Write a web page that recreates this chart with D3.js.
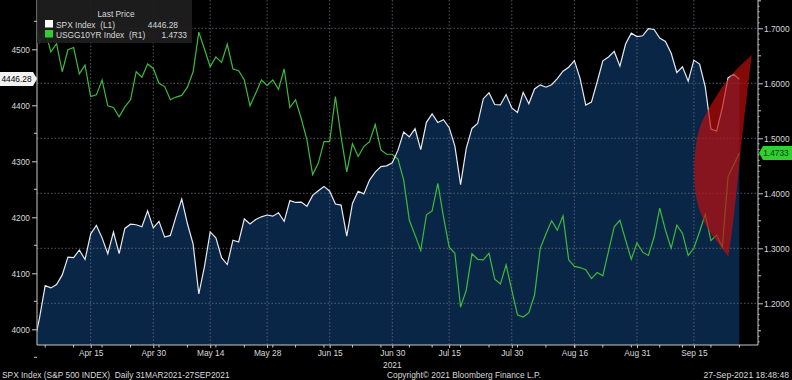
<!DOCTYPE html>
<html><head><meta charset="utf-8">
<script src="https://cdn.jsdelivr.net/npm/d3@7"></script>
<style>
html,body{margin:0;padding:0;background:#000;}
svg{display:block;font-family:"Liberation Sans",Arial,sans-serif;}
text{white-space:pre;}
</style></head><body>
<script>
const dates = ["2021-03-31","2021-04-01","2021-04-05","2021-04-06","2021-04-07","2021-04-08","2021-04-09","2021-04-12","2021-04-13","2021-04-14","2021-04-15","2021-04-16","2021-04-19","2021-04-20","2021-04-21","2021-04-22","2021-04-23","2021-04-26","2021-04-27","2021-04-28","2021-04-29","2021-04-30","2021-05-03","2021-05-04","2021-05-05","2021-05-06","2021-05-07","2021-05-10","2021-05-11","2021-05-12","2021-05-13","2021-05-14","2021-05-17","2021-05-18","2021-05-19","2021-05-20","2021-05-21","2021-05-24","2021-05-25","2021-05-26","2021-05-27","2021-05-28","2021-06-01","2021-06-02","2021-06-03","2021-06-04","2021-06-07","2021-06-08","2021-06-09","2021-06-10","2021-06-11","2021-06-14","2021-06-15","2021-06-16","2021-06-17","2021-06-18","2021-06-21","2021-06-22","2021-06-23","2021-06-24","2021-06-25","2021-06-28","2021-06-29","2021-06-30","2021-07-01","2021-07-02","2021-07-06","2021-07-07","2021-07-08","2021-07-09","2021-07-12","2021-07-13","2021-07-14","2021-07-15","2021-07-16","2021-07-19","2021-07-20","2021-07-21","2021-07-22","2021-07-23","2021-07-26","2021-07-27","2021-07-28","2021-07-29","2021-07-30","2021-08-02","2021-08-03","2021-08-04","2021-08-05","2021-08-06","2021-08-09","2021-08-10","2021-08-11","2021-08-12","2021-08-13","2021-08-16","2021-08-17","2021-08-18","2021-08-19","2021-08-20","2021-08-23","2021-08-24","2021-08-25","2021-08-26","2021-08-27","2021-08-30","2021-08-31","2021-09-01","2021-09-02","2021-09-03","2021-09-07","2021-09-08","2021-09-09","2021-09-10","2021-09-13","2021-09-14","2021-09-15","2021-09-16","2021-09-17","2021-09-20","2021-09-21","2021-09-22","2021-09-23","2021-09-24","2021-09-27"];

const spx = [3972.89,4019.87,4077.91,4073.94,4079.95,4097.17,4128.80,4127.99,4141.59,4124.66,4170.42,4185.47,4163.26,4134.94,4173.42,4134.98,4180.17,4187.62,4186.72,4183.18,4211.47,4181.17,4192.66,4164.66,4167.59,4201.62,4232.60,4188.43,4152.10,4063.04,4112.50,4173.85,4163.29,4127.83,4115.68,4159.12,4155.86,4197.05,4188.13,4195.99,4200.88,4204.11,4202.04,4208.12,4192.85,4229.89,4226.52,4227.26,4219.55,4239.18,4247.44,4255.15,4246.59,4223.70,4221.86,4166.45,4224.79,4246.44,4241.84,4266.49,4280.70,4290.61,4291.80,4297.50,4319.94,4352.34,4343.54,4358.13,4320.82,4369.55,4384.63,4369.21,4374.30,4360.03,4327.16,4258.49,4323.06,4358.69,4367.48,4411.79,4422.30,4401.46,4400.64,4419.15,4395.26,4387.16,4423.15,4402.66,4429.10,4436.52,4432.35,4436.75,4447.70,4460.83,4468.00,4479.71,4448.08,4400.27,4405.80,4441.67,4479.53,4486.23,4496.19,4470.00,4509.37,4528.79,4522.68,4524.09,4536.95,4535.43,4520.03,4514.07,4493.28,4458.58,4468.73,4443.05,4480.70,4473.75,4432.99,4357.73,4354.19,4395.64,4448.98,4455.48,4446.28];

const yld = [1.745,1.675,1.695,1.657,1.672,1.621,1.661,1.665,1.617,1.633,1.576,1.579,1.606,1.559,1.556,1.539,1.557,1.570,1.621,1.611,1.635,1.627,1.600,1.594,1.570,1.575,1.578,1.593,1.621,1.693,1.662,1.630,1.648,1.638,1.671,1.626,1.623,1.606,1.559,1.582,1.606,1.596,1.606,1.589,1.626,1.556,1.570,1.536,1.497,1.434,1.455,1.494,1.494,1.576,1.503,1.439,1.490,1.467,1.485,1.494,1.525,1.479,1.471,1.471,1.462,1.424,1.351,1.324,1.296,1.361,1.368,1.418,1.357,1.302,1.291,1.193,1.224,1.290,1.280,1.279,1.291,1.244,1.235,1.270,1.224,1.179,1.175,1.183,1.215,1.300,1.326,1.350,1.333,1.359,1.279,1.267,1.265,1.261,1.245,1.256,1.250,1.295,1.339,1.351,1.315,1.280,1.310,1.293,1.287,1.320,1.373,1.333,1.300,1.342,1.327,1.287,1.300,1.330,1.362,1.314,1.324,1.302,1.430,1.452,1.4733];

const xTickDates = ["2021-04-15","2021-04-30","2021-05-14","2021-05-28","2021-06-15","2021-06-30","2021-07-15","2021-07-30","2021-08-16","2021-08-31","2021-09-15"];
const xTickLabels = ["Apr 15","Apr 30","May 14","May 28","Jun 15","Jun 30","Jul 15","Jul 30","Aug 16","Aug 31","Sep 15"];
const leftTicks = [4000,4100,4200,4300,4400,4500];
const rightTicks = [1.2,1.3,1.4,1.5,1.6,1.7];
const lastSpx = "4446.28", lastYld = "1.4733";
// annotation (red highlight) edges as [trading-day index, SPX level]
const annoLeft = [[126.17,4489.8],[122.36,4451.1],[118.84,4397.5],[116.9,4355.9],[116.08,4290.4],[116.5,4230.9],[118.26,4183.2],[120.3,4153.6],[122.06,4129.6]];
const annoRight = [[122.06,4129.6],[122.65,4171.4],[123.53,4248.8],[124.41,4338.0],[125.29,4415.4],[126.17,4489.8]];

const W=792,H=380, L=37, R=758, T=0, B=345;
const FS = 9.5, SQ = 0.88;
const svg = d3.select("body").append("svg").attr("width",W).attr("height",H);
svg.append("rect").attr("width",W).attr("height",H).attr("fill","#000");

const x = d3.scaleLinear().domain([0,dates.length-1]).range([33.8,739.4]);
const yL = d3.scaleLinear().domain([4000,4500]).range([329.3,49.3]);
const yR = d3.scaleLinear().domain([1.2,1.7]).range([303.3,28.3]);

svg.append("clipPath").attr("id","clip").append("rect").attr("x",L).attr("y",T).attr("width",R-L).attr("height",B-T);
const plot = svg.append("g").attr("clip-path","url(#clip)");

plot.append("path").datum(spx)
  .attr("d", d3.area().x((d,i)=>x(i)).y0(B).y1(d=>yL(d)))
  .attr("fill","#0a2647");

const gridC = "#6a6f78";
plot.selectAll(".hg").data(rightTicks).join("line")
  .attr("x1",L).attr("x2",R).attr("y1",d=>yR(d)).attr("y2",d=>yR(d))
  .attr("stroke",gridC).attr("stroke-width",0.8).attr("stroke-dasharray","1.5,2");
plot.selectAll(".vg").data(xTickDates).join("line")
  .attr("x1",d=>x(dates.indexOf(d))).attr("x2",d=>x(dates.indexOf(d))).attr("y1",T).attr("y2",B)
  .attr("stroke",gridC).attr("stroke-width",0.8).attr("stroke-dasharray","1.5,2");

plot.append("path").datum(yld)
  .attr("d", d3.line().x((d,i)=>x(i)).y(d=>yR(d)))
  .attr("fill","none").attr("stroke","#3dbb3d").attr("stroke-width",1.2);
plot.append("path").datum(spx)
  .attr("d", d3.line().x((d,i)=>x(i)).y(d=>yL(d)))
  .attr("fill","none").attr("stroke","#e4ebf3").attr("stroke-width",1.2);

const annoLine = d3.line().x(d=>x(d[0])).y(d=>yL(d[1])).curve(d3.curveCatmullRom);
const p1 = annoLine(annoLeft), p2 = annoLine(annoRight).replace(/^M/,"L");
svg.append("path").attr("d", p1+p2+"Z").attr("fill","#c20e0e").attr("fill-opacity",0.68);

const axC = "#c8c8c8", txtC = "#d8d8d8";
svg.append("line").attr("x1",L).attr("x2",L).attr("y1",T).attr("y2",B).attr("stroke",axC);
svg.append("line").attr("x1",R).attr("x2",R).attr("y1",T).attr("y2",B).attr("stroke",axC);
svg.append("line").attr("x1",L).attr("x2",R).attr("y1",B).attr("y2",B).attr("stroke",axC);

const gl = svg.append("g").attr("transform",`translate(${L},0)`)
  .call(d3.axisLeft(yL).tickValues(leftTicks).tickFormat(d3.format("d")).tickSize(5).tickPadding(2));
const gr = svg.append("g").attr("transform",`translate(${R},0)`)
  .call(d3.axisRight(yR).tickValues(rightTicks).tickFormat(d3.format(".4f")).tickSize(5).tickPadding(1));
[gl,gr].forEach(g=>{
  g.select(".domain").remove();
  g.selectAll(".tick line").attr("stroke",axC);
  g.selectAll(".tick text").attr("fill",txtC).attr("font-size",FS).attr("font-family",null);
});
svg.selectAll(".ml").data(d3.range(3950,4600,50).filter(v=>v%100!==0)).join("line")
  .attr("x1",L-3).attr("x2",L).attr("y1",d=>yL(d)).attr("y2",d=>yL(d)).attr("stroke",axC);
svg.selectAll(".mr").data(d3.range(113,176,1).map(v=>v/100).filter(v=>Math.round(v*100)%10!==0)).join("line")
  .attr("x1",R).attr("x2",d=>R+(Math.round(d*100)%5===0?3:1.5)).attr("y1",d=>yR(d)).attr("y2",d=>yR(d)).attr("stroke",axC);

const gb = svg.append("g").attr("transform",`translate(0,${B})`)
  .call(d3.axisBottom(x).tickValues(xTickDates.map(d=>dates.indexOf(d))).tickFormat((d,i)=>xTickLabels[i]).tickSize(3).tickPadding(1.5));
gb.select(".domain").remove();
gb.selectAll(".tick line").attr("stroke",axC);
gb.selectAll(".tick text").attr("fill",txtC).attr("font-size",FS).attr("font-family",null);
const weekStarts = dates.map((d,i)=>i).filter(i=>i>0 && new Date(dates[i]).getUTCDay() < new Date(dates[i-1]).getUTCDay());
svg.selectAll(".wt").data(weekStarts).join("line")
  .attr("x1",i=>x(i)).attr("x2",i=>x(i)).attr("y1",B).attr("y2",B+2.5).attr("stroke",axC);
svg.append("text").attr("x",x(dates.indexOf("2021-06-30"))).attr("y",367.5).attr("text-anchor","middle")
  .attr("fill",txtC).attr("font-size",FS).text("2021");

svg.append("path").attr("d","M0,72 H33 L37,79 L33,86 H0 Z").attr("fill","#f2f2f2");
svg.append("text").attr("x",16.5).attr("y",82.4).attr("text-anchor","middle").attr("fill","#000").attr("font-size",FS).text(lastSpx);
const yl = yR(+lastYld);
svg.append("path").attr("d",`M${R+1},${yl} L${R+5},${yl-7} H792 V${yl+7} H${R+5} Z`).attr("fill","#2ed12e");
svg.append("text").attr("x",776).attr("y",yl+3.4).attr("text-anchor","middle").attr("fill","#0b3b0b").attr("font-size",FS).text(lastYld);

const lg = svg.append("g");
lg.append("rect").attr("x",37).attr("y",0).attr("width",155).attr("height",43).attr("fill","#1e1e1e").attr("fill-opacity",0.92);
lg.append("text").attr("x",116).attr("y",16.5).attr("text-anchor","middle").attr("fill",txtC).attr("font-size",FS).text("Last Price");
lg.append("rect").attr("x",45).attr("y",20).attr("width",8).attr("height",7.5).attr("fill","#ffffff");
lg.append("rect").attr("x",45).attr("y",30).attr("width",8).attr("height",7.5).attr("fill","#2ed12e");
lg.append("text").attr("x",56).attr("y",27.8).attr("fill",txtC).attr("font-size",FS).text("SPX Index  (L1)");
lg.append("text").attr("x",56).attr("y",37.8).attr("fill",txtC).attr("font-size",FS).text("USGG10YR Index  (R1)");
lg.append("text").attr("x",178).attr("y",27.8).attr("text-anchor","end").attr("fill",txtC).attr("font-size",FS).text(lastSpx);
lg.append("text").attr("x",187).attr("y",37.8).attr("text-anchor","end").attr("fill",txtC).attr("font-size",FS).text(lastYld);

svg.append("text").attr("x",2).attr("y",378).attr("fill",txtC).attr("font-size",FS).text("SPX Index (S&P 500 INDEX)  Daily 31MAR2021-27SEP2021");
svg.append("text").attr("x",387).attr("y",378).attr("fill",txtC).attr("font-size",FS).text("Copyright© 2021 Bloomberg Finance L.P.");
svg.append("text").attr("class","nosq").attr("x",789).attr("y",378).attr("text-anchor","end").attr("fill",txtC).attr("font-size",8.6).text("27-Sep-2021 18:48:48");

// narrow the typeface horizontally, like the terminal font; re-anchor to start so the box is exact
svg.selectAll("text:not(.nosq)").each(function(){
  const len = this.getComputedTextLength();
  if (len <= 0) return;
  const nl = len*SQ;
  const anchor = getComputedStyle(this).textAnchor;
  let x0 = +(this.getAttribute("x") || 0);
  if (anchor === "end") x0 -= nl; else if (anchor === "middle") x0 -= nl/2;
  this.setAttribute("x", x0.toFixed(2));
  this.setAttribute("text-anchor","start");
  this.style.textAnchor = "start";
  this.setAttribute("textLength", nl.toFixed(2));
  this.setAttribute("lengthAdjust","spacingAndGlyphs");
});
</script></body></html>
